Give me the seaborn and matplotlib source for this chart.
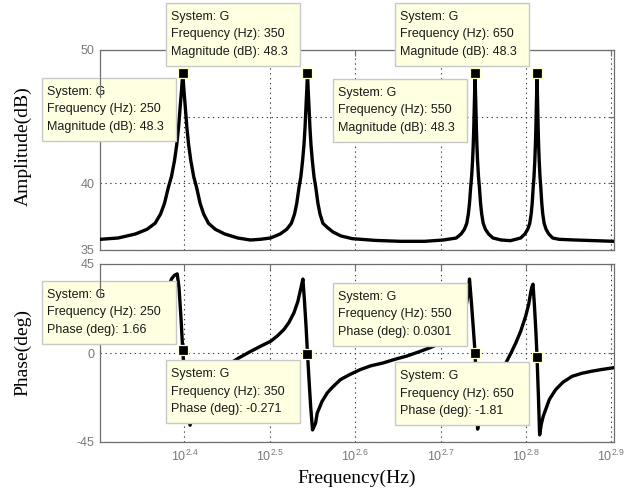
import matplotlib
matplotlib.use("Agg")
import matplotlib.pyplot as plt
import seaborn as sns
from matplotlib.patches import Rectangle
from matplotlib.lines import Line2D
from matplotlib.ticker import FixedLocator, NullLocator, FixedFormatter

# ---------------- data ----------------
mag_freq = [200, 210, 220, 227, 232, 235.5, 238, 240.5, 242.5, 244.5, 246, 247.2, 248.4, 249.2,
            250, 250.8, 251.6, 252.8, 254, 255.5, 257.5, 259.5, 262, 264.5, 268, 273, 280, 290,
            300, 308, 316.8, 325.1, 330.9, 335.1, 338, 340, 342.1, 343.8, 345.4, 346.7, 347.7,
            348.67, 349.34, 350, 350.66, 351.33, 352.3, 353.3, 354.6, 356.2, 357.9, 360, 362,
            364.9, 369.1, 374.9, 383.2, 395, 420, 450, 480, 505, 522.8, 529.6, 534.4, 537.8,
            540.1, 541.8, 543.5, 544.9, 546.3, 547.3, 548.1, 548.9, 549.46, 550, 550.54, 551.1,
            551.9, 552.7, 553.7, 555.1, 556.5, 558.2, 559.9, 562.2, 565.6, 570.4, 577.2, 590,
            605, 622, 629, 633.9, 637.4, 639.85, 641.6, 643.35, 644.75, 646.15, 647.2, 648.04,
            648.88, 649.44, 650, 650.56, 651.12, 651.96, 652.8, 653.85, 655.25, 656.65, 658.4,
            660.15, 662.6, 666.1, 671, 678, 690, 720, 760, 800]
mag_db = [35.8, 35.9, 36.2, 36.55, 37.0, 37.7, 38.5, 39.7, 40.5, 41.7, 42.9, 44.2, 45.9, 47.0,
          48.3, 47.0, 45.9, 44.2, 42.9, 41.7, 40.5, 39.7, 38.5, 37.7, 37.0, 36.55, 36.2, 35.9,
          35.75, 35.8, 35.9, 36.2, 36.55, 37.0, 37.7, 38.5, 39.7, 40.5, 41.7, 42.9, 44.2,
          45.9, 47.0, 48.3, 47.0, 45.9, 44.2, 42.9, 41.7, 40.5, 39.7, 38.5, 37.7,
          37.0, 36.7, 36.35, 36.05, 35.85, 35.72, 35.65, 35.65, 35.75, 35.9, 36.2, 36.55, 37.0,
          37.7, 38.5, 39.7, 40.5, 41.7, 42.9, 44.2, 45.9, 47.0, 48.3, 47.0, 45.9,
          44.2, 42.9, 41.7, 40.5, 39.7, 38.5, 37.7, 37.0, 36.55, 36.2, 35.9, 35.75,
          35.7, 35.9, 36.2, 36.55, 37.0, 37.7, 38.5, 39.7, 40.5, 41.7, 42.9, 44.2,
          45.9, 47.0, 48.3, 47.0, 45.9, 44.2, 42.9, 41.7, 40.5, 39.7, 38.5,
          37.7, 37.0, 36.55, 36.2, 35.9, 35.8, 35.75, 35.7, 35.65]

phase_freq = [200, 210, 218, 225, 230, 234, 236.2, 238.5, 240, 241.5, 242.6, 244.5, 246.3, 247.5,
              248.8, 250, 251.5, 253, 255, 256.5, 259, 263, 268, 274, 281, 291.1, 300.5, 308,
              317.1, 323, 328.6, 333, 337.5, 341, 343.6, 345.7, 347.2, 348.7, 350, 351.5, 353,
              354.8, 357.7, 359.3, 364, 369.1, 374, 382.4, 391, 403.5, 415, 429.4, 443, 457.1,
              472, 486.7, 500, 512, 522, 530, 535.5, 539, 541.8, 544.5, 547.3, 550, 552, 553.8,
              556, 559, 563, 568, 575, 583, 591, 597.7, 606, 614, 622, 630.5, 635.5, 639, 641.2,
              643, 645.5, 648, 650, 652.5, 654.6, 657.5, 661, 665.2, 672, 683.3, 697, 714.4,
              733, 753.6, 775, 800]
phase_deg = [12, 14, 16.5, 19.5, 22, 25, 27, 30, 32.5, 35.5, 37.5, 39.3, 40.0, 33,
             18, 1.66, -16, -30, -36.5, -33, -27, -20, -14.5, -10, -6.5, -2.4, 0.9, 3.3,
             6, 8.8, 12, 15.5, 20.4, 26, 32.3, 37.4, 26, 13, -0.271, -14, -27,
             -38.9, -35.5, -30.4, -24.5, -20.2, -17.5, -13.5, -11.2, -8.4, -6.5, -5, -3.2, -1.6,
             0.5, 2.6, 4.8, 7.5, 11, 15.5, 21, 28, 37.4, 26, 13, 0.0301, -20, -38.5,
             -34, -28, -22, -17, -12.5, -10, -7.2, -5, 0, 5.2, 11, 18.7, 24.5, 30.6, 33.5,
             34.8, 24, 11, -1.81, -22, -41.4, -36, -32, -28.7, -23.5, -18.6, -14.8, -11.8,
             -10.3, -9.2, -8.3, -7.4]

tip_freq = [250, 350, 550, 650]
tip_mag = [48.3, 48.3, 48.3, 48.3]
tip_phase = [1.66, -0.271, 0.0301, -1.81]
tip_system = "G"

xtick_exp = [2.4, 2.5, 2.6, 2.7, 2.8, 2.9]
mag_ticks = [35, 40, 45, 50]
mag_tick_labels = ["35", "40", "", "50"]   # the 45 label is hidden under a data tip
phase_ticks = [-45, 0, 45]
phase_tick_labels = ["-45", "0", "45"]

# ---------------- styling ----------------
sns.set_theme(style="white")
plt.rcParams["font.family"] = ["Liberation Sans", "DejaVu Sans"]
plt.rcParams["mathtext.default"] = "regular"

W, H = 635, 499
fig = plt.figure(figsize=(W / 100, H / 100), dpi=100)
fig.patch.set_facecolor("white")


def fx(px):
    return px / W


def fy(py):
    return 1 - py / H


ax1 = fig.add_axes([fx(100), fy(250), 514 / W, 200 / H])
ax2 = fig.add_axes([fx(100), fy(442), 514 / W, 178 / H])

frame_col = "#6e6e6e"
label_col = "#7a7a7a"
for ax in (ax1, ax2):
    ax.set_xscale("log")
    ax.set_facecolor("white")

sns.lineplot(x=mag_freq, y=mag_db, ax=ax1, color="black", linewidth=2.4,
             estimator=None, sort=False, legend=False, zorder=3)
sns.lineplot(x=phase_freq, y=phase_deg, ax=ax2, color="black", linewidth=2.4,
             estimator=None, sort=False, legend=False, zorder=3)
sns.scatterplot(x=tip_freq, y=tip_mag, ax=ax1, marker="s", s=42, color="black",
                edgecolor="#FFFFD0", linewidth=0.9, legend=False, zorder=4)
sns.scatterplot(x=tip_freq, y=tip_phase, ax=ax2, marker="s", s=42, color="black",
                edgecolor="#FFFFD0", linewidth=0.9, legend=False, zorder=4)

xticks = [10 ** e for e in xtick_exp]
xlabels = ["$10^{%s}$" % e for e in xtick_exp]
for ax, yt, ytl, ylim in ((ax1, mag_ticks, mag_tick_labels, (35, 50)),
                          (ax2, phase_ticks, phase_tick_labels, (-45, 45))):
    ax.set_xlim(200, 800)
    ax.set_ylim(*ylim)
    ax.xaxis.set_major_locator(FixedLocator(xticks))
    ax.xaxis.set_major_formatter(FixedFormatter(xlabels))
    ax.xaxis.set_minor_locator(NullLocator())
    ax.set_yticks(yt)
    ax.set_yticklabels(ytl)
    ax.grid(True, which="major", linestyle=(0, (1.2, 3.2)), color="#3a3a3a", linewidth=0.8)
    ax.set_axisbelow(True)
    ax.tick_params(axis="both", which="major", direction="in", length=4, width=0.8,
                   color=frame_col, labelcolor=label_col, labelsize=9,
                   top=True, right=True, pad=4)
    for sp in ax.spines.values():
        sp.set_visible(True)
        sp.set_color(frame_col)
        sp.set_linewidth(0.9)
    ax.set_xlabel("")
    ax.set_ylabel("")
ax1.tick_params(axis="x", labelbottom=False)
ax2.tick_params(axis="x", pad=5)

serif = ["Liberation Serif", "DejaVu Serif"]
fig.text(fx(23), fy(146), "Amplitude(dB)", rotation=90, ha="center", va="center",
         family=serif, fontsize=14, color="black")
fig.text(fx(23), fy(353), "Phase(deg)", rotation=90, ha="center", va="center",
         family=serif, fontsize=14, color="black")
fig.text(fx(357), fy(478), "Frequency(Hz)", ha="center", va="center",
         family=serif, fontsize=14, color="black")

# ---------------- data tips ----------------
box_w, box_h = 134, 63
mag_boxes = [(42, 78), (166, 3), (333, 79), (395, 3)]
phase_boxes = [(42, 281), (166, 360), (333, 283), (395, 362)]


def draw_tip(bx, by, lines):
    rect = Rectangle((fx(bx), fy(by + box_h)), box_w / W, box_h / H, transform=fig.transFigure,
                     facecolor="#FFFFE1", edgecolor="#C8C8C8", linewidth=1.0, zorder=10)
    fig.add_artist(rect)
    for i, t in enumerate(lines):
        fig.text(fx(bx + 5), fy(by + 14 + 17.5 * i), t, ha="left", va="center",
                 fontsize=9, color="#1a1a1a", zorder=11)


for (bx, by), f, m in zip(mag_boxes, tip_freq, tip_mag):
    draw_tip(bx, by, ["System: %s" % tip_system, "Frequency (Hz): %g" % f,
                      "Magnitude (dB): %s" % m])
for (bx, by), f, p in zip(phase_boxes, tip_freq, tip_phase):
    draw_tip(bx, by, ["System: %s" % tip_system, "Frequency (Hz): %g" % f,
                      "Phase (deg): %s" % p])

# small axis-line remnants visible through the left data tips
for y0, y1 in ((78, 97), (281, 297)):
    fig.add_artist(Line2D([fx(100), fx(100)], [fy(y0), fy(y1)], transform=fig.transFigure,
                          color=frame_col, linewidth=0.9, zorder=12))

fig.savefig("out.png", dpi=100)
